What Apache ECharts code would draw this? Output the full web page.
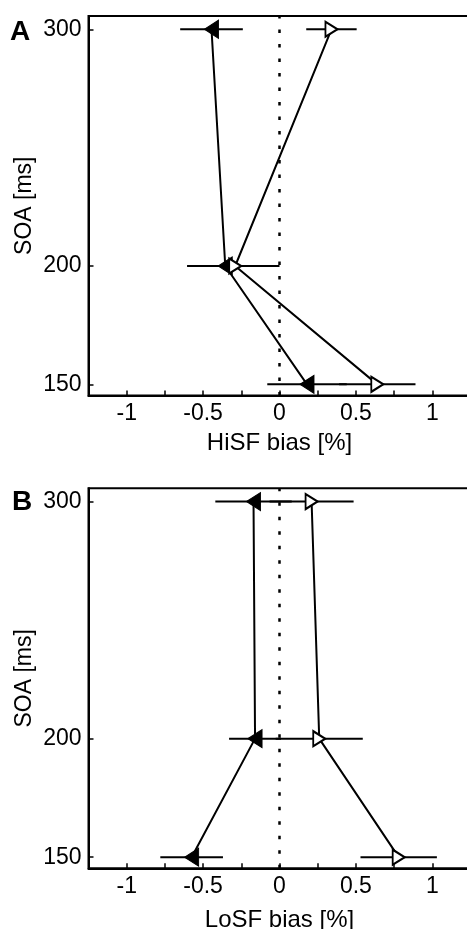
<!DOCTYPE html>
<html>
<head>
<meta charset="utf-8">
<script src="https://cdn.jsdelivr.net/npm/echarts@6/dist/echarts.min.js"></script>
<style>
html,body{margin:0;padding:0;background:#fff;overflow:hidden;}
#c{width:467px;height:929px;}
</style>
</head>
<body>
<div id="c"></div>
<script>
// ---- data ----
const soa = [300, 200, 150];
const hiFilled = [-0.445, -0.355, 0.18];
const hiFilledErr = [0.205, 0.25, 0.26];
const hiOpen = [0.34, -0.29, 0.64];
const hiOpenErr = [0.165, 0.29, 0.25];
const loFilled = [-0.17, -0.16, -0.575];
const loFilledErr = [0.25, 0.17, 0.205];
const loOpen = [0.21, 0.26, 0.78];
const loOpenErr = [0.275, 0.285, 0.25];
const yTickLabels = [150, 200, 300];
const xTickLabels = [-1, -0.5, 0, 0.5, 1];
const xTicks = [-1, -0.75, -0.5, -0.25, 0, 0.25, 0.5, 0.75, 1];
const xNames = ['HiSF bias [%]', 'LoSF bias [%]'];
const yName = 'SOA [ms]';
const panelLabels = ['A', 'B'];

const FONT = 'Liberation Sans, Arial, Helvetica, sans-serif';
const chart = echarts.init(document.getElementById('c'), null, {renderer: 'canvas'});

function xAxisCfg(idx, gap) {
  return {
    type: 'value', gridIndex: idx, min: -1.25, max: 1.25,
    name: xNames[idx], nameLocation: 'middle', nameGap: gap, nameMoveOverlap: false,
    nameTextStyle: {fontFamily: FONT, fontSize: 24, color: '#000'},
    axisLine: {show: true, onZero: false, lineStyle: {color: '#000', width: 2}},
    axisTick: {show: true, inside: true, length: 5, lineStyle: {color: '#000', width: 1.5}, customValues: xTicks},
    axisLabel: {fontFamily: FONT, fontSize: 23, color: '#000', margin: 7, customValues: xTickLabels,
      formatter: v => String(v)},
    splitLine: {show: false}
  };
}
function yAxisCfg(idx) {
  return {
    type: 'value', gridIndex: idx, min: 145.3, max: 305.6,
    name: yName, nameLocation: 'middle', nameGap: 52, nameMoveOverlap: false,
    nameTextStyle: {fontFamily: FONT, fontSize: 23, color: '#000'},
    axisLine: {show: true, onZero: false, lineStyle: {color: '#000', width: 2}},
    axisTick: {show: true, inside: true, length: 5, lineStyle: {color: '#000', width: 1.5}, customValues: yTickLabels},
    axisLabel: {fontFamily: FONT, fontSize: 23, color: '#000', margin: 7, customValues: yTickLabels},
    splitLine: {show: false}
  };
}
function errSeries(idx, vals, errs) {
  return {
    type: 'custom', xAxisIndex: idx, yAxisIndex: idx, z: 1,
    data: soa.map((s, i) => [vals[i] - errs[i], vals[i] + errs[i], s]),
    encode: {x: [0, 1], y: 2},
    renderItem: function (params, api) {
      const p1 = api.coord([api.value(0), api.value(2)]);
      const p2 = api.coord([api.value(1), api.value(2)]);
      return {type: 'line', shape: {x1: p1[0], y1: p1[1], x2: p2[0], y2: p2[1]},
        style: {stroke: '#000', lineWidth: 2}};
    }
  };
}
function lineSeries(idx, vals, filled, withZero) {
  const s = {
    type: 'line', xAxisIndex: idx, yAxisIndex: idx, z: 3,
    data: soa.map((y, i) => [vals[i], y]),
    symbol: 'triangle',
    symbolSize: filled ? [18, 14] : [15, 12],
    symbolRotate: filled ? 90 : -90,
    showAllSymbol: true,
    lineStyle: {color: '#000', width: 2},
    itemStyle: filled ? {color: '#000', borderColor: '#000', borderWidth: 1}
                      : {color: '#fff', borderColor: '#000', borderWidth: 2},
    emphasis: {disabled: true},
    animation: false
  };
  if (withZero) {
    s.markLine = {
      silent: true, symbol: 'none', label: {show: false}, animation: false,
      lineStyle: {color: '#000', width: 2.5, type: [3.5, 11]},
      data: [{xAxis: 0}]
    };
  }
  return s;
}

const option = {
  animation: false,
  backgroundColor: '#fff',
  grid: [
    {left: 88.5, width: 382, top: 16, height: 379.5, outerBoundsMode: 'none', containLabel: false,
     show: true, borderColor: '#000', borderWidth: 2, backgroundColor: 'transparent'},
    {left: 88.5, width: 382, top: 488.3, height: 380, outerBoundsMode: 'none', containLabel: false,
     show: true, borderColor: '#000', borderWidth: 2, backgroundColor: 'transparent'}
  ],
  xAxis: [xAxisCfg(0, 36), xAxisCfg(1, 40)],
  yAxis: [yAxisCfg(0), yAxisCfg(1)],
  graphic: [
    {type: 'text', left: 10, top: 18, style: {text: panelLabels[0], font: 'bold 28px ' + FONT, fill: '#000'}},
    {type: 'text', left: 12, top: 488, style: {text: panelLabels[1], font: 'bold 28px ' + FONT, fill: '#000'}}
  ],
  series: [
    errSeries(0, hiFilled, hiFilledErr),
    errSeries(0, hiOpen, hiOpenErr),
    lineSeries(0, hiFilled, true, true),
    lineSeries(0, hiOpen, false, false),
    errSeries(1, loFilled, loFilledErr),
    errSeries(1, loOpen, loOpenErr),
    lineSeries(1, loFilled, true, true),
    lineSeries(1, loOpen, false, false)
  ]
};
chart.setOption(option);
</script>
</body>
</html>
